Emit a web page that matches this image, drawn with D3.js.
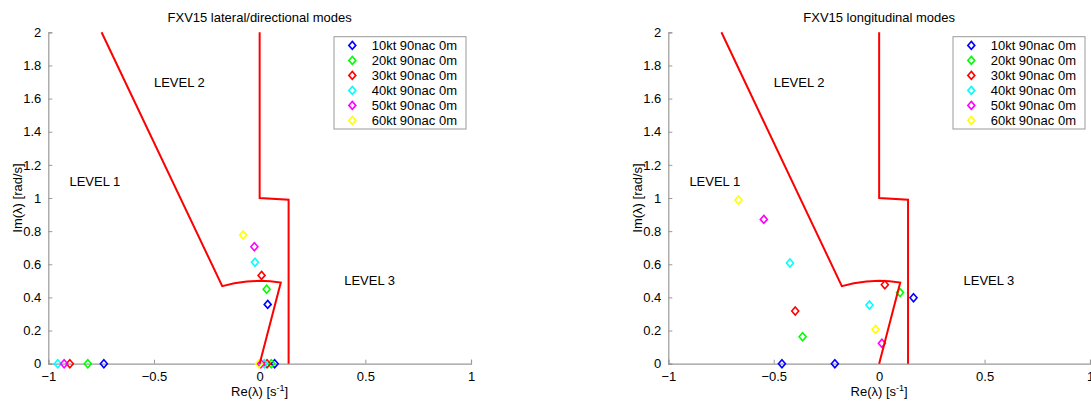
<!DOCTYPE html>
<html>
<head>
<meta charset="utf-8">
<script src="https://d3js.org/d3.v7.min.js"></script>
<style>
    body { margin: 0; background: #fff; }
    text { font-family: Arial, "Liberation Sans", sans-serif; }
</style>
</head>
<body>
<div id="chart"></div>
<script>
// Axis ranges and ticks
const reDomain = [-1, 1];
const imDomain = [0, 2];
const reTicks = [-1, -0.5, 0, 0.5, 1];
const imTicks = [0, 0.2, 0.4, 0.6, 0.8, 1, 1.2, 1.4, 1.6, 1.8, 2];

// Legend entries and marker colours
const seriesNames = ['10kt 90nac 0m', '20kt 90nac 0m', '30kt 90nac 0m', '40kt 90nac 0m', '50kt 90nac 0m', '60kt 90nac 0m'];
const seriesColors = ['#0000ff', '#00ff00', '#ff0000', '#00ffff', '#ff00ff', '#ffff00'];

// Lateral/directional eigenvalues [Re, Im], one list per series
const lateralModes = [
    [[-0.737, 0], [0.071, 0], [0.038, 0.358]],
    [[-0.813, 0], [0.055, 0], [0.033, 0.449]],
    [[-0.898, 0], [0.035, 0], [0.009, 0.533]],
    [[-0.955, 0], [0.022, 0], [-0.022, 0.612]],
    [[-0.925, 0], [0.006, 0], [-0.025, 0.706]],
    [[-0.003, 0], [-0.078, 0.777]]
];

// Longitudinal eigenvalues [Re, Im], one list per series
const longitudinalModes = [
    [[-0.461, 0], [-0.210, 0], [0.163, 0.398]],
    [[-0.363, 0.163], [0.099, 0.429]],
    [[-0.398, 0.318], [0.027, 0.477]],
    [[-0.423, 0.608], [-0.046, 0.354]],
    [[-0.547, 0.871], [0.013, 0.123]],
    [[-0.667, 0.988], [-0.017, 0.207]]
];

// Handling-qualities level boundaries
const boundaryLevel12 = [[-0.748, 2], [-0.177, 0.468], [-0.12, 0.485], [-0.06, 0.496], [0, 0.5], [0.05, 0.497], [0.1, 0.49], [0, 0]];
const boundaryLevel23 = [[0, 2], [0, 1], [0.137, 0.99], [0.137, 0]];
const levelLabels = [['LEVEL 1', -0.9, 1.1], ['LEVEL 2', -0.5, 1.7], ['LEVEL 3', 0.4, 0.5]];

const svg = d3.select('#chart').append('svg')
    .attr('width', 1091)
    .attr('height', 403);

const diamond = 'M0,-4L3.5,0L0,4L-3.5,0Z';

function drawPanel(left, right, title, modes) {
    const x = d3.scaleLinear().domain(reDomain).range([left, right]);
    const y = d3.scaleLinear().domain(imDomain).range([363.7, 32.3]);
    const g = svg.append('g');

    // Title
    g.append('text')
        .attr('x', (left + right) / 2)
        .attr('y', 22)
        .attr('text-anchor', 'middle')
        .style('font-size', '13px')
        .text(title);

    // Axes (left and bottom only, inward ticks)
    const xAxis = g.append('g')
        .attr('transform', `translate(0,${y(0)})`)
        .call(d3.axisBottom(x).tickValues(reTicks).tickSize(-4).tickPadding(8).tickFormat(d3.format('')));
    const yAxis = g.append('g')
        .attr('transform', `translate(${x(-1)},0)`)
        .call(d3.axisLeft(y).tickValues(imTicks).tickSize(-4).tickPadding(7).tickFormat(d3.format('')));
    [xAxis, yAxis].forEach(a => {
        a.select('.domain').attr('stroke', '#999').attr('stroke-width', 1.2);
        a.selectAll('.tick line').attr('stroke', '#999');
        a.selectAll('.tick text').style('font-size', '13px').attr('fill', '#000')
            .style('font-family', 'Arial, "Liberation Sans", sans-serif');
    });

    // Axis labels
    const xl = g.append('text')
        .attr('x', (left + right) / 2)
        .attr('y', 396)
        .attr('text-anchor', 'middle')
        .style('font-size', '13px');
    xl.append('tspan').text('Re(λ) [s');
    xl.append('tspan').attr('dy', -5).style('font-size', '9px').text('-1');
    xl.append('tspan').attr('dy', 5).text(']');

    g.append('text')
        .attr('transform', `translate(${left - 26},${(y(0) + y(2)) / 2}) rotate(-90)`)
        .attr('x', 0)
        .attr('y', 0)
        .attr('text-anchor', 'middle')
        .style('font-size', '13px')
        .text('Im(λ) [rad/s]');

    // Level labels
    g.selectAll('.level')
        .data(levelLabels)
        .enter().append('text')
        .attr('x', d => x(d[1]))
        .attr('y', d => y(d[2]))
        .attr('dy', '0.35em')
        .style('font-size', '13px')
        .text(d => d[0]);

    // Eigenvalue markers
    modes.forEach((pts, i) => {
        g.selectAll(null)
            .data(pts)
            .enter().append('path')
            .attr('d', diamond)
            .attr('transform', d => `translate(${x(d[0])},${y(d[1])})`)
            .attr('fill', 'none')
            .attr('stroke', seriesColors[i])
            .attr('stroke-width', 1.6);
    });

    // Boundary lines
    const line = d3.line().x(d => x(d[0])).y(d => y(d[1]));
    [boundaryLevel12, boundaryLevel23].forEach(b => {
        g.append('path')
            .attr('d', line(b))
            .attr('fill', 'none')
            .attr('stroke', '#ff0000')
            .attr('stroke-width', 2);
    });

    // Legend
    const lx = right - 137, ly = 36.7;
    const legend = g.append('g').attr('transform', `translate(${lx},${ly})`);
    legend.append('rect')
        .attr('width', 132)
        .attr('height', 92.3)
        .attr('fill', '#fff')
        .attr('stroke', '#999');
    seriesNames.forEach((name, i) => {
        legend.append('path')
            .attr('d', diamond)
            .attr('transform', `translate(18.3,${8.7 + i * 15})`)
            .attr('fill', 'none')
            .attr('stroke', seriesColors[i])
            .attr('stroke-width', 1.6);
        legend.append('text')
            .attr('x', 37.7)
            .attr('y', 8.7 + i * 15)
            .attr('dy', '0.35em')
            .style('font-size', '13px')
            .text(name);
    });
}

drawPanel(48.3, 471, 'FXV15 lateral/directional modes', lateralModes);
drawPanel(668.3, 1090, 'FXV15 longitudinal modes', longitudinalModes);
</script>
</body>
</html>
